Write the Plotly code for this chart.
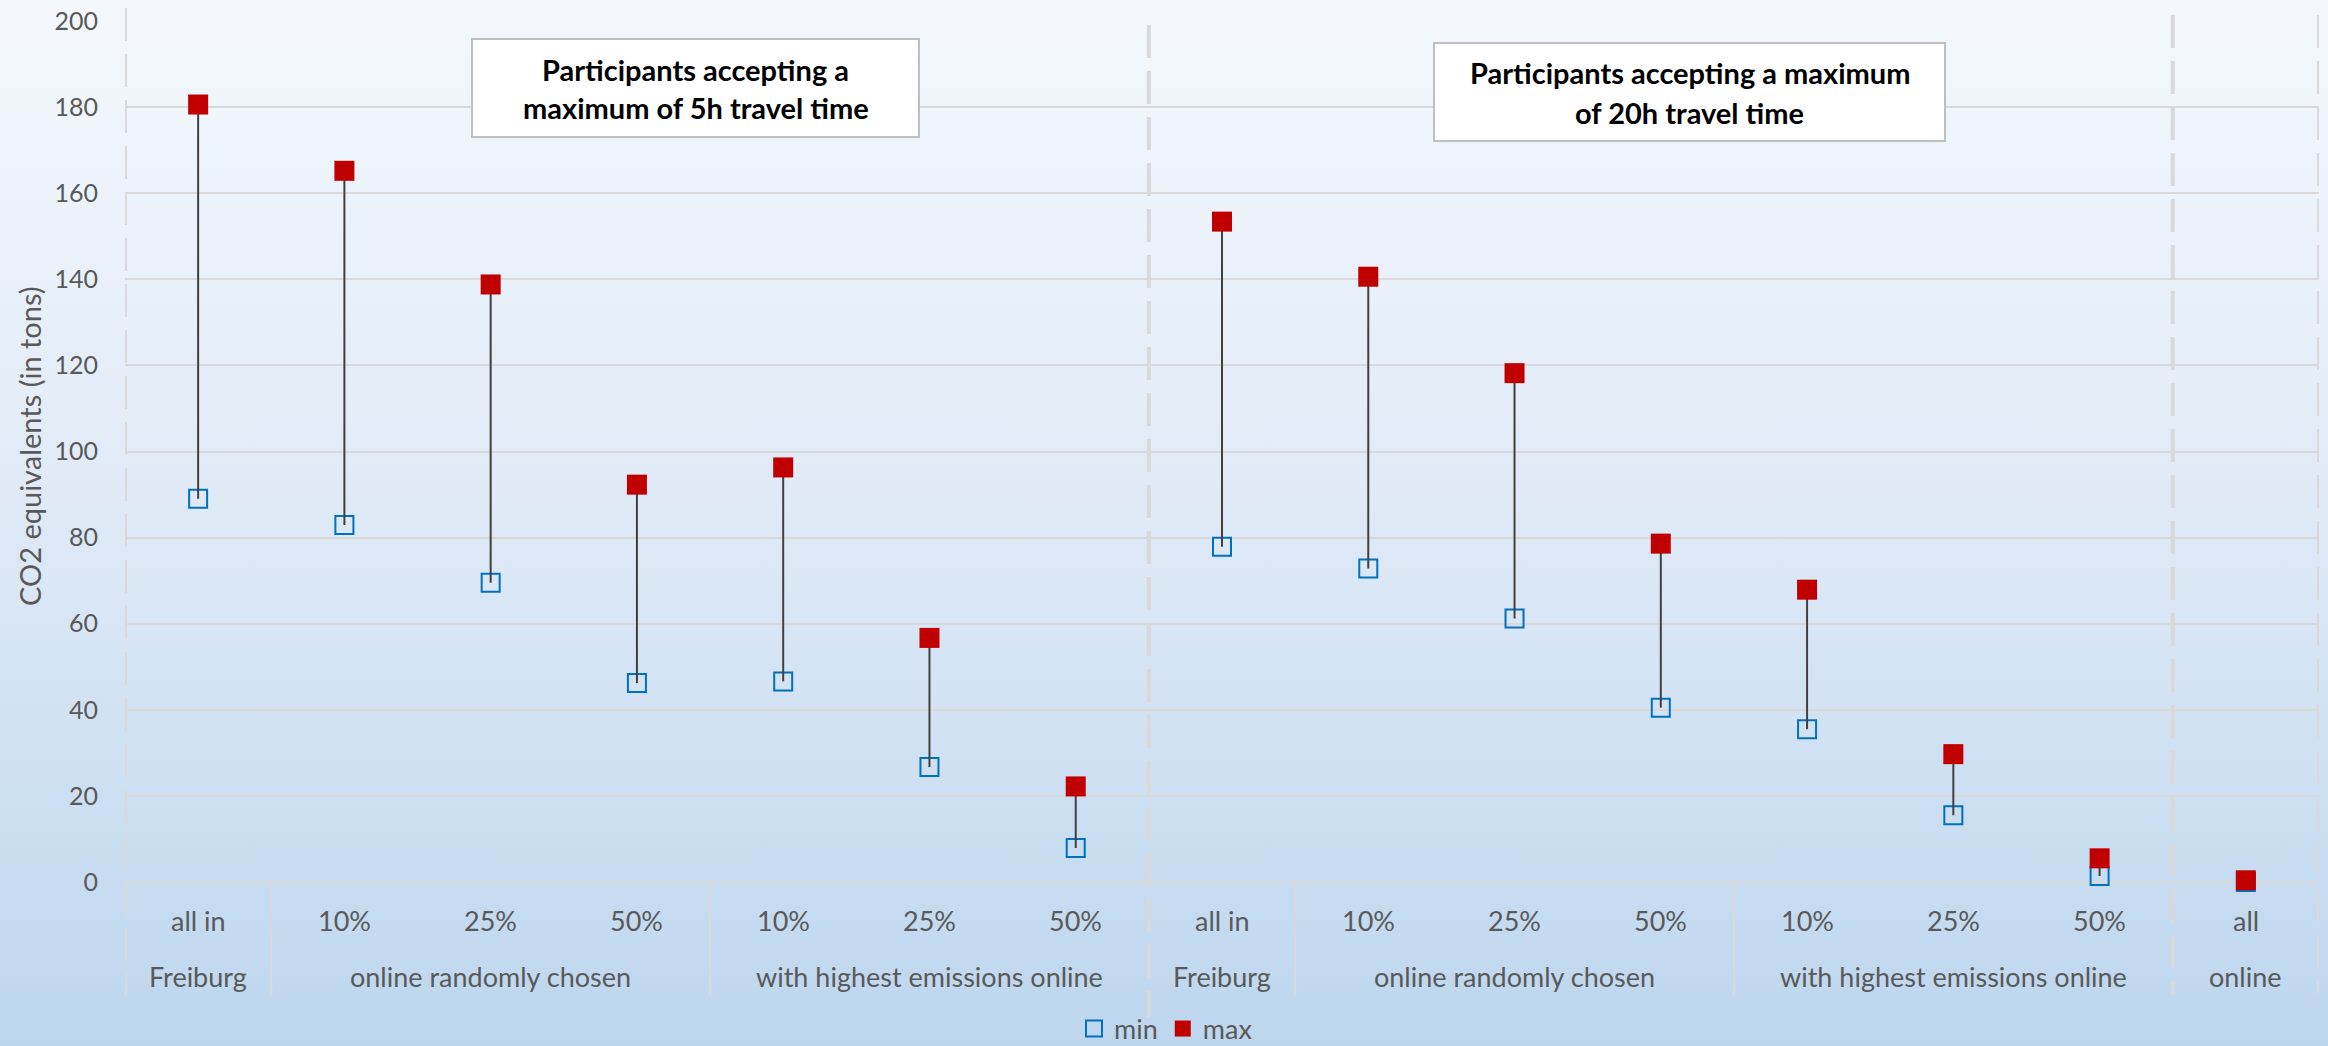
import base64
import plotly.graph_objects as go

# ---- data -------------------------------------------------------------
scenario = ["all in", "10%", "25%", "50%", "10%", "25%", "50%",
            "all in", "10%", "25%", "50%", "10%", "25%", "50%", "all"]
scenario_group = ["Freiburg",
                  "online randomly chosen", "online randomly chosen", "online randomly chosen",
                  "with highest emissions online", "with highest emissions online",
                  "with highest emissions online",
                  "Freiburg",
                  "online randomly chosen", "online randomly chosen", "online randomly chosen",
                  "with highest emissions online", "with highest emissions online",
                  "with highest emissions online",
                  "online"]
co2_min = [89.0, 82.9, 69.5, 46.2, 46.6, 26.7, 7.9,
           77.9, 72.8, 61.2, 40.5, 35.5, 15.5, 1.4, 0.0]
co2_max = [180.6, 165.2, 138.8, 92.3, 96.3, 56.7, 22.2,
           153.4, 140.6, 118.2, 78.6, 67.9, 29.7, 5.5, 0.4]
y_ticks = [0, 20, 40, 60, 80, 100, 120, 140, 160, 180, 200]
box_texts = [["Participants accepting a", "maximum of 5h travel time"],
             ["Participants accepting a maximum", "of 20h travel time"]]

# ---- page geometry ----------------------------------------------------
W, H = 2328, 1046
ML, MR, MT, MB = 125, 9, 21, 164
PW, PH = W - ML - MR, H - MT - MB
FONT = "Lato"
GREY = "#595959"
LINE_GREY = "#d9d9d9"


def px_x(p):
    return (p - ML) / PW


def px_y(p):
    return (H - MB - p) / PH


n = len(scenario)
xs = list(range(n))

fig = go.Figure()

# minimum values (hollow blue squares)
fig.add_trace(go.Scatter(
    x=xs, y=co2_min, mode="markers", name="min", cliponaxis=False,
    marker=dict(symbol="square-open", size=18, color="#0070c0",
                line=dict(width=2, color="#0070c0")),
))

# high-low connectors
lx, ly = [], []
for i in xs:
    lx += [i, i, None]
    ly += [co2_min[i], co2_max[i], None]
fig.add_trace(go.Scatter(
    x=lx, y=ly, mode="lines", showlegend=False, hoverinfo="skip",
    cliponaxis=False, line=dict(color="#404040", width=2),
))

# maximum values (filled red squares)
fig.add_trace(go.Scatter(
    x=xs, y=co2_max, mode="markers", name="max", cliponaxis=False,
    marker=dict(symbol="square", size=20, color="#c00000"),
))

shapes = []
annotations = []

# dashed section dividers
for xv, top, bottom in [(-0.5, 8, 995), (6.5, 25, 1017), (13.5, 15, 995), (14.5, 15, 993)]:
    shapes.append(dict(type="line", xref="x", yref="paper",
                       x0=xv, x1=xv, y0=px_y(top), y1=px_y(bottom),
                       line=dict(color=LINE_GREY, width=4, dash="33px,13px"),
                       layer="below"))

# category labels, first row
for i, lab in enumerate(scenario):
    annotations.append(dict(x=i, xref="x", y=px_y(920), yref="paper",
                            text=lab, showarrow=False,
                            font=dict(family=FONT, size=27, color=GREY),
                            xanchor="center", yanchor="middle"))

# group labels, second row, with separators between runs
runs = []
start = 0
for i in range(1, n + 1):
    if i == n or scenario_group[i] != scenario_group[start]:
        runs.append((scenario_group[start], start, i - 1))
        start = i
section_edges = {6.5, 13.5, 14.5, -0.5}
for lab, a, b in runs:
    annotations.append(dict(x=(a + b) / 2, xref="x", y=px_y(976), yref="paper",
                            text=lab, showarrow=False,
                            font=dict(family=FONT, size=27, color=GREY),
                            xanchor="center", yanchor="middle"))
    edge = b + 0.5
    if edge not in section_edges:
        shapes.append(dict(type="line", xref="x", yref="paper",
                           x0=edge, x1=edge, y0=px_y(882), y1=px_y(995),
                           line=dict(color=LINE_GREY, width=2), layer="below"))

# text boxes naming the travel-time limits
boxes = [(472, 919, 39, 137, (70, 108)), (1434, 1945, 43, 141, (73, 112))]
for (x0, x1, y0, y1, lines_y), lines in zip(boxes, box_texts):
    shapes.append(dict(type="rect", xref="paper", yref="paper",
                       x0=px_x(x0), x1=px_x(x1), y0=px_y(y1), y1=px_y(y0),
                       fillcolor="white", line=dict(color="#bfbfbf", width=2),
                       layer="above"))
    for ty, txt in zip(lines_y, lines):
        annotations.append(dict(x=px_x((x0 + x1) / 2), xref="paper",
                                y=px_y(ty), yref="paper", text="<b>%s</b>" % txt,
                                showarrow=False, xanchor="center", yanchor="middle",
                                font=dict(family=FONT, size=29, color="black")))

# y-axis title
annotations.append(dict(x=px_x(29), xref="paper", y=px_y(446), yref="paper",
                        text="CO2 equivalents (in tons)", textangle=-90,
                        showarrow=False, xanchor="center", yanchor="middle",
                        font=dict(family=FONT, size=29, color=GREY)))

# vertical background gradient
svg = ('<svg xmlns="http://www.w3.org/2000/svg" width="%d" height="%d" '
       'preserveAspectRatio="none"><defs><linearGradient id="g" x1="0" y1="0" '
       'x2="0" y2="1"><stop offset="0" stop-color="#f4f8fd"/>'
       '<stop offset="0.45" stop-color="#e1ebf7"/>'
       '<stop offset="1" stop-color="#bdd6ee"/></linearGradient></defs>'
       '<rect width="100%%" height="100%%" fill="url(#g)"/></svg>') % (W, H)
bg_src = "data:image/svg+xml;base64," + base64.b64encode(svg.encode()).decode()

fig.update_layout(
    width=W, height=H,
    margin=dict(l=ML, r=MR, t=MT, b=MB, autoexpand=False),
    paper_bgcolor="#dbe7f4",
    plot_bgcolor="rgba(0,0,0,0)",
    font=dict(family=FONT, color=GREY),
    images=[dict(source=bg_src, xref="paper", yref="paper",
                 x=px_x(0), y=px_y(0), sizex=W / PW, sizey=H / PH,
                 xanchor="left", yanchor="top", sizing="stretch", layer="below")],
    shapes=shapes,
    annotations=annotations,
    showlegend=True,
    legend=dict(orientation="h", x=px_x(1166), xanchor="center",
                y=px_y(1029), yanchor="middle",
                font=dict(family=FONT, size=27, color=GREY),
                bgcolor="rgba(0,0,0,0)", itemclick=False),
    xaxis=dict(range=[-0.5, n - 0.5], showgrid=False, zeroline=False,
               showticklabels=False, showline=False, fixedrange=True),
    yaxis=dict(range=[0, 200], tickvals=y_ticks, showgrid=True,
               gridcolor=LINE_GREY, gridwidth=2, zeroline=True,
               zerolinecolor=LINE_GREY, zerolinewidth=2, showline=False,
               ticks="", ticklabelstandoff=26,
               tickfont=dict(family=FONT, size=25, color=GREY)),
)

fig.write_html("out.html")
